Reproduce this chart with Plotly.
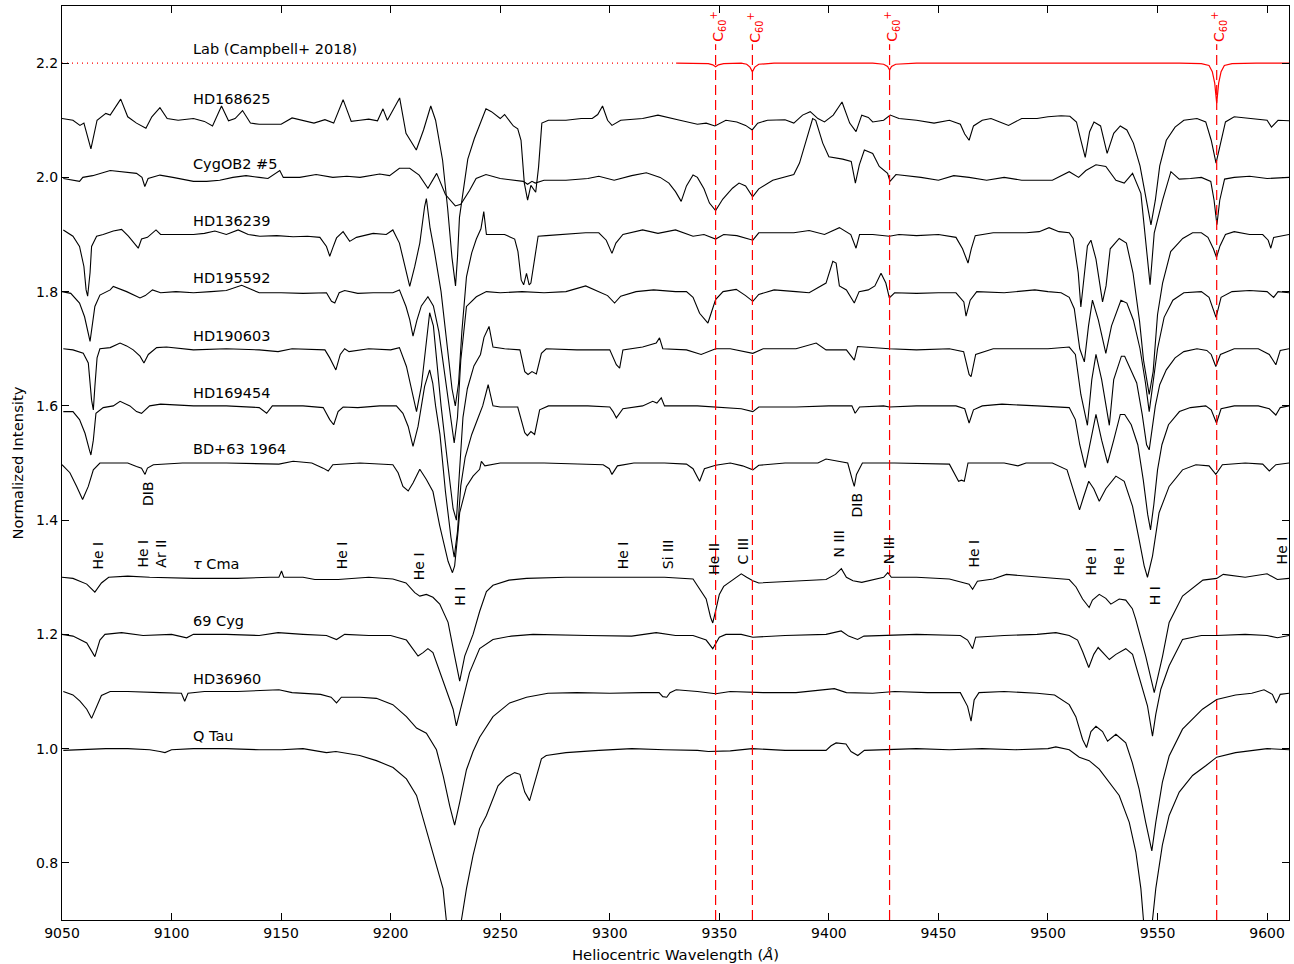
import plotly.graph_objects as go

# ---------------- data (wavelength in Angstrom, normalized flux) ----------------
lab_dotted = [(9050, 1.0), (9330, 1.0)]
lab_solid = [(9330.3, 1.0), (9340, 1.0), (9345, 0.999), (9347, 0.997), (9348.3, 0.9935), (9349.6, 0.997), (9352, 0.999),
             (9360, 1.0), (9362.5, 0.998), (9364, 0.993), (9365.1, 0.985), (9366.2, 0.993), (9368, 0.998), (9375, 1.0),
             (9420, 1.0), (9425, 0.998), (9426.8, 0.994), (9427.7, 0.988), (9428.6, 0.994), (9430.5, 0.998), (9440, 1.0),
             (9560, 1.0), (9570, 0.999), (9573.5, 0.996), (9575, 0.985), (9576.1, 0.965), (9577, 0.93), (9577.9, 0.965),
             (9579, 0.985), (9580.5, 0.996), (9584, 0.999), (9595, 1.0), (9610, 1.0)]
lab_offset = 1.2

hd168625 = [(9050, 1.003), (9055, 1.0), (9058.2, 0.991), (9060, 0.995), (9063.2, 0.95), (9066, 1.0), (9070, 1.012), (9072, 1.009),
            (9076.8, 1.037), (9080, 1.006), (9084, 0.995), (9088.3, 0.986), (9091, 1.006), (9094.7, 1.022), (9098, 1.003),
            (9103, 1.0), (9110, 1.003), (9115, 0.998), (9118.7, 0.99), (9122.8, 1.025), (9126, 0.999), (9129, 1.003),
            (9132.4, 1.017), (9136, 0.995), (9140, 0.993), (9150, 0.993), (9155, 1.004), (9160, 1.0), (9165, 0.995),
            (9170, 1.001), (9174, 0.995), (9178.3, 1.036), (9182, 0.998), (9186, 1.0), (9190, 1.002), (9194, 0.999),
            (9196.5, 1.02), (9198.5, 1.0), (9204.1, 1.039), (9207, 0.977), (9211.7, 0.948), (9215, 0.983), (9218.3, 1.025),
            (9220.5, 1.0), (9223.7, 0.93), (9226, 0.846), (9228, 0.759), (9229.6, 0.71), (9230.5, 0.76), (9231.4, 0.83),
            (9232.9, 0.872), (9235.2, 0.932), (9238.2, 0.968), (9240.5, 0.992), (9243.5, 1.02), (9246, 1.015), (9250, 1.003),
            (9252, 1.01), (9256, 0.99), (9258, 0.985), (9259.5, 0.965), (9261, 0.89), (9262.5, 0.86), (9264, 0.886),
            (9266.2, 0.874), (9267.5, 0.918), (9269, 0.995), (9272, 1.0), (9280, 1.0), (9287, 1.003), (9292, 1.003),
            (9294.5, 1.01), (9296.7, 1.025), (9299, 1.0), (9301, 0.991), (9305, 1.0), (9315, 1.003), (9322, 1.009),
            (9326, 1.005), (9332, 1.0), (9340, 0.993), (9344, 0.995), (9348, 0.99), (9353, 1.0), (9358, 0.997),
            (9362, 0.991), (9365, 0.983), (9367.5, 0.995), (9372, 1.0), (9380, 1.001), (9384, 0.995), (9388, 1.009),
            (9391.5, 1.015), (9395, 1.003), (9398, 0.997), (9402, 1.009), (9406, 1.032), (9409.5, 0.995), (9412.4, 0.98),
            (9415, 1.009), (9418, 1.005), (9420, 0.997), (9425, 1.0), (9428, 1.009), (9432, 1.003), (9440, 1.0),
            (9448, 0.995), (9455, 1.0), (9460, 0.993), (9462, 0.976), (9464, 0.965), (9466, 0.99), (9470, 1.0),
            (9474, 1.003), (9478, 0.997), (9482, 0.991), (9488, 1.003), (9495, 1.003), (9500, 1.006), (9506, 1.008),
            (9510, 1.007), (9513, 0.997), (9515, 0.965), (9517, 0.935), (9519, 0.98), (9521, 0.997), (9524, 0.99),
            (9527, 0.942), (9530, 0.977), (9533, 0.99), (9536, 0.983), (9539, 0.96), (9542, 0.92), (9545, 0.86),
            (9547, 0.817), (9549, 0.86), (9551, 0.92), (9554, 0.965), (9558, 0.988), (9562, 1.0), (9568, 1.003),
            (9572, 0.997), (9574.5, 0.965), (9576.7, 0.925), (9579, 0.965), (9581, 0.997), (9585, 1.006), (9592, 1.003),
            (9597, 1.0), (9600, 1.0), (9602, 0.988), (9605, 1.0), (9610, 0.999)]

cygob2_5 = [(9050.6, 0.998), (9058, 0.993), (9059.5, 1.0), (9064, 1.003), (9072, 1.012), (9079.5, 1.009), (9084, 1.007),
            (9086.5, 1.0), (9087.8, 0.984), (9089.3, 0.998), (9094.7, 1.004), (9100.6, 1.0), (9110, 0.993), (9116, 0.993),
            (9122, 0.995), (9128, 1.0), (9134, 1.003), (9140, 1.0), (9144, 0.998), (9149.4, 1.012), (9151, 1.0),
            (9158.5, 1.0), (9166, 1.005), (9173.6, 1.0), (9180, 1.002), (9186, 1.0), (9195, 1.006), (9199.5, 1.003),
            (9204, 1.016), (9208.7, 1.016), (9213, 1.004), (9217, 0.981), (9221, 1.007), (9225, 0.97), (9229.5, 0.95),
            (9232, 0.953), (9236, 0.977), (9239, 0.998), (9243.5, 1.005), (9250, 0.998), (9258, 0.995), (9260.5, 0.993),
            (9262.5, 0.988), (9264.5, 0.993), (9266, 0.99), (9270, 0.995), (9280, 0.995), (9290, 0.998), (9295, 1.002),
            (9302, 0.995), (9310, 1.003), (9316.7, 1.008), (9323, 1.0), (9327, 0.99), (9330, 0.975), (9332.6, 0.958),
            (9335, 0.985), (9338, 1.004), (9340, 1.0), (9343, 0.98), (9345.5, 0.955), (9348.3, 0.942), (9351.6, 0.962),
            (9356, 0.981), (9359, 0.99), (9362, 0.985), (9365.2, 0.966), (9368, 0.98), (9374.4, 0.995), (9380.5, 1.002),
            (9384, 1.005), (9386.6, 1.025), (9389.6, 1.065), (9392.6, 1.103), (9394, 1.1), (9397.2, 1.06), (9400, 1.036),
            (9406.3, 1.032), (9410.2, 1.028), (9412.1, 0.99), (9413.9, 1.022), (9416.2, 1.048), (9420, 1.042),
            (9423, 1.019), (9426.8, 1.007), (9427.9, 0.993), (9430.6, 1.005), (9435, 1.003), (9442, 1.0), (9450, 0.995),
            (9457, 1.003), (9464, 1.0), (9472, 0.995), (9480, 1.0), (9488, 0.995), (9495, 0.995), (9502, 0.995),
            (9509.7, 1.01), (9514, 1.0), (9517.3, 1.012), (9521.9, 1.022), (9526.4, 1.019), (9531, 0.995), (9534.8, 0.99),
            (9538.6, 1.007), (9542.4, 0.972), (9545.4, 0.855), (9546.6, 0.812), (9548.5, 0.903), (9552.3, 0.96),
            (9556.1, 1.01), (9559.9, 0.997), (9565, 0.998), (9570, 1.0), (9574.3, 0.993), (9575.8, 0.96), (9577.1, 0.917),
            (9578.4, 0.96), (9580.6, 0.997), (9585, 1.0), (9592, 1.002), (9600, 0.998), (9610, 1.0)]

hd136239 = [(9050.6, 1.008), (9055, 0.997), (9058, 0.979), (9060, 0.944), (9061, 0.903), (9061.7, 0.892), (9062.8, 0.933),
            (9063.5, 0.979), (9065.8, 0.997), (9068.8, 1.0), (9073.4, 1.006), (9077.2, 1.009), (9080.3, 0.997),
            (9083.3, 0.982), (9084.8, 0.976), (9086.3, 0.992), (9089, 0.995), (9092.9, 1.008), (9095, 1.0), (9102.3, 1.0),
            (9110, 1.0), (9115, 1.002), (9119.8, 1.006), (9125, 1.0), (9130.4, 1.008), (9135, 1.0), (9140.3, 0.997),
            (9148, 0.998), (9155.5, 0.996), (9162, 0.997), (9167.7, 0.995), (9170.7, 0.979), (9172.2, 0.962),
            (9173.7, 0.978), (9175.3, 0.994), (9178.3, 1.005), (9181.3, 0.988), (9184.4, 0.995), (9192, 1.002),
            (9198, 1.0), (9201, 1.008), (9204, 0.985), (9206.4, 0.944), (9208.7, 0.909), (9211, 0.944), (9213.3, 0.985),
            (9215.5, 1.049), (9216.3, 1.063), (9218, 1.011), (9220, 0.97), (9223, 0.9), (9226, 0.8), (9228, 0.73),
            (9229.5, 0.70), (9231, 0.74), (9232.5, 0.83), (9234.6, 0.926), (9237, 0.968), (9239.1, 0.992), (9241.2, 1.01),
            (9242.5, 1.04), (9243.7, 1.0), (9245, 1.0), (9252, 1.0), (9256.6, 0.992), (9258.1, 0.97), (9259.6, 0.92),
            (9260.7, 0.912), (9262, 0.932), (9263.2, 0.912), (9264, 0.915), (9265.3, 0.95), (9267.3, 0.997), (9271, 0.998),
            (9280, 1.0), (9289, 1.003), (9295, 1.003), (9298.4, 0.99), (9301, 0.967), (9302.8, 0.985), (9306, 1.0),
            (9315, 1.008), (9322, 1.002), (9330, 1.008), (9338, 0.997), (9343, 1.0), (9348.3, 0.992), (9352, 1.0),
            (9358, 0.998), (9365.3, 0.99), (9368, 1.003), (9376, 1.003), (9384, 1.003), (9391, 1.007), (9398, 1.0),
            (9404.8, 1.012), (9410, 1.0), (9412.4, 0.976), (9414, 1.0), (9420, 1.0), (9427.6, 0.997), (9432, 1.0),
            (9440, 0.998), (9450, 1.0), (9458, 0.995), (9461, 0.975), (9463.5, 0.95), (9465, 0.975), (9466.8, 0.998),
            (9475, 1.003), (9490, 1.003), (9496, 1.005), (9500.5, 1.012), (9505, 1.005), (9509.7, 1.003), (9511.5, 0.993),
            (9513.8, 0.933), (9515, 0.873), (9516.6, 0.933), (9518, 0.98), (9519.6, 0.99), (9521.9, 0.957),
            (9524.9, 0.882), (9526.5, 0.91), (9528.4, 0.975), (9532.5, 0.993), (9535.8, 0.985), (9538.8, 0.933),
            (9541.8, 0.848), (9543.6, 0.78), (9546.2, 0.72), (9548, 0.76), (9550, 0.86), (9552.3, 0.915), (9556, 0.97),
            (9561.5, 0.993), (9566, 1.003), (9570, 1.003), (9573, 0.995), (9575.5, 0.975), (9576.9, 0.96), (9578.5, 0.98),
            (9581, 1.0), (9585, 1.005), (9592, 1.0), (9598, 1.0), (9600.5, 0.99), (9601.7, 0.976), (9603, 0.995),
            (9610, 1.0)]

hd195592 = [(9050, 1.0), (9054, 0.997), (9058, 0.98), (9060.3, 0.956), (9062.8, 0.913), (9065, 0.974), (9067.3, 0.994),
            (9072, 1.003), (9073.4, 1.009), (9079.5, 1.0), (9085.6, 0.989), (9088, 0.993), (9091.3, 1.003), (9095, 0.998),
            (9102, 1.0), (9110, 0.998), (9118, 1.0), (9125, 1.002), (9132, 1.011), (9140, 0.998), (9150, 0.998),
            (9160, 0.997), (9170.7, 0.998), (9173, 0.983), (9174.5, 0.98), (9176.5, 0.998), (9179, 1.002), (9185, 0.997),
            (9192, 0.998), (9201, 0.998), (9204, 1.003), (9207, 0.974), (9208.7, 0.951), (9210.2, 0.922), (9212, 0.95),
            (9214, 0.975), (9217, 0.991), (9219.5, 0.975), (9222, 0.93), (9225, 0.85), (9227.5, 0.78), (9229, 0.735),
            (9230.5, 0.78), (9232, 0.88), (9234.6, 0.974), (9239.1, 0.991), (9243.7, 1.0), (9250, 0.998), (9260, 1.0),
            (9270, 0.998), (9280, 1.0), (9289, 1.01), (9295, 1.0), (9299, 0.993), (9302.2, 0.98), (9305, 0.992),
            (9312, 1.0), (9320, 1.003), (9330, 1.0), (9335, 1.0), (9338, 0.99), (9341, 0.962), (9344.8, 0.945),
            (9348.3, 0.986), (9351.7, 1.0), (9357.7, 1.004), (9362, 0.993), (9365.3, 0.983), (9368, 0.995), (9375, 1.003),
            (9385, 1.0), (9391, 0.998), (9398.7, 1.015), (9401.8, 1.053), (9403.3, 1.05), (9404.8, 1.01), (9408, 1.003),
            (9411.6, 0.98), (9413.8, 1.0), (9418, 1.003), (9421, 1.01), (9423.8, 1.032), (9426, 1.015), (9427.6, 0.989),
            (9430, 0.998), (9440, 0.997), (9450, 0.998), (9458, 0.998), (9461.6, 0.982), (9462.6, 0.957), (9464.5, 0.985),
            (9467.5, 1.0), (9480, 0.998), (9494, 1.003), (9500, 1.0), (9506, 0.998), (9509.7, 0.99), (9512, 0.97),
            (9514.5, 0.9), (9516.6, 0.877), (9518.5, 0.94), (9520.3, 0.985), (9523, 0.95), (9526.4, 0.892), (9529, 0.94),
            (9533.3, 0.985), (9536, 0.98), (9539, 0.95), (9542, 0.9), (9544.5, 0.84), (9546.2, 0.79), (9548, 0.84),
            (9550, 0.9), (9553, 0.955), (9557, 0.985), (9562, 0.998), (9570, 1.0), (9573.5, 0.99), (9576.7, 0.955),
            (9579, 0.99), (9584, 1.0), (9592, 1.002), (9600, 1.0), (9603, 0.99), (9605, 1.0), (9610, 0.998)]

hd190603 = [(9050.6, 1.0), (9055, 0.998), (9059.7, 0.992), (9062, 0.975), (9063.5, 0.91), (9064.3, 0.893), (9065, 0.934),
            (9066, 0.984), (9067.3, 1.0), (9072, 1.002), (9076.5, 1.01), (9079.5, 1.005), (9082.5, 0.998), (9085.6, 0.987),
            (9087.4, 0.975), (9089.4, 0.99), (9093.2, 1.002), (9097.7, 1.003), (9110, 0.998), (9125, 1.0), (9140, 0.998),
            (9148.6, 0.995), (9155, 1.0), (9170, 0.998), (9172.2, 0.984), (9175, 0.963), (9177, 0.99), (9179, 1.0),
            (9181, 0.995), (9190, 1.0), (9200, 0.998), (9204, 1.002), (9207.2, 0.969), (9209.5, 0.928), (9211.8, 0.89),
            (9214, 0.934), (9216.3, 1.01), (9217.8, 1.063), (9219.5, 1.04), (9221, 0.98), (9223, 0.9), (9226, 0.8),
            (9228.5, 0.72), (9230, 0.70), (9231.5, 0.8), (9233, 0.88), (9235, 0.93), (9238, 0.97), (9241, 0.99),
            (9242.6, 1.02), (9244.9, 1.039), (9246.7, 1.003), (9252, 1.0), (9259, 0.998), (9261.2, 0.96), (9262.7, 0.955),
            (9264.5, 0.96), (9266.5, 0.956), (9268.8, 0.992), (9271, 1.0), (9285, 0.998), (9300, 0.998), (9303, 0.972),
            (9304.5, 0.966), (9306, 0.998), (9315, 1.003), (9321.2, 1.01), (9322.7, 1.019), (9324.2, 1.0), (9335, 0.998),
            (9341.7, 0.99), (9348.3, 1.0), (9355, 1.0), (9365.3, 0.992), (9370, 1.0), (9385, 1.0), (9394.2, 1.01),
            (9398.7, 0.998), (9408, 0.998), (9411.6, 0.98), (9413.1, 1.004), (9420, 1.002), (9427.6, 1.0), (9440, 0.998),
            (9455, 1.0), (9461.5, 0.995), (9464, 0.955), (9464.9, 0.951), (9467, 0.99), (9475, 1.0), (9490, 1.0),
            (9500, 1.0), (9509.7, 1.003), (9512.5, 0.99), (9515, 0.92), (9518, 0.866), (9520, 0.946), (9521.9, 0.99),
            (9524.5, 0.946), (9528, 0.866), (9530, 0.946), (9533.5, 0.987), (9535, 0.987), (9538, 0.963), (9540.5, 0.94),
            (9543, 0.885), (9545, 0.832), (9546.2, 0.823), (9547.5, 0.86), (9549, 0.9), (9551, 0.937), (9554, 0.963),
            (9558, 0.984), (9562, 0.995), (9568, 1.0), (9572.5, 0.997), (9574.5, 0.99), (9576.6, 0.969), (9578.7, 0.99),
            (9585, 1.0), (9596, 1.0), (9601, 0.99), (9604, 0.972), (9606, 0.997), (9610, 1.0)]

hd169454 = [(9050.6, 0.99), (9055, 0.99), (9058, 0.976), (9060.5, 0.952), (9062.5, 0.923), (9063.2, 0.914), (9064.3, 0.94),
            (9065.5, 0.987), (9068.8, 0.997), (9073.4, 1.0), (9076.5, 1.008), (9081, 1.0), (9084, 0.99), (9086.3, 0.987),
            (9090, 1.0), (9095, 1.003), (9110, 1.0), (9125, 1.0), (9140, 0.997), (9143.4, 0.987), (9146, 1.0),
            (9160, 1.0), (9169.2, 0.997), (9172.2, 0.976), (9174, 0.967), (9176, 0.99), (9178.3, 0.998), (9185, 0.997),
            (9195, 1.0), (9202.6, 1.0), (9205.6, 0.987), (9208, 0.964), (9210.2, 0.929), (9212.5, 0.964), (9215.5, 1.034),
            (9217.8, 1.063), (9219.2, 1.04), (9220.5, 1.0), (9222.5, 0.95), (9225, 0.85), (9227.5, 0.77), (9229, 0.735),
            (9230.5, 0.78), (9232, 0.86), (9234, 0.91), (9237, 0.95), (9240, 0.98), (9242, 1.0), (9244.5, 1.037),
            (9246.7, 1.0), (9250, 0.998), (9258, 0.998), (9261.2, 0.953), (9262.4, 0.948), (9264, 0.955), (9265.7, 0.95),
            (9268, 0.993), (9272, 1.0), (9290, 1.0), (9300, 0.998), (9301.5, 0.99), (9303, 0.979), (9306, 0.995),
            (9315, 1.0), (9319.6, 1.008), (9321.5, 1.005), (9323.5, 1.014), (9325, 1.0), (9340, 1.0), (9348.3, 0.998),
            (9360, 0.995), (9365.3, 0.99), (9368, 0.998), (9385, 0.998), (9400, 1.0), (9410.5, 1.0), (9412, 0.987),
            (9414, 0.998), (9425, 1.0), (9427.6, 0.998), (9440, 1.0), (9458, 1.0), (9462, 0.995), (9464, 0.97),
            (9466, 0.993), (9470, 1.0), (9479, 1.003), (9495, 1.0), (9509.7, 0.997), (9512.5, 0.976), (9514.5, 0.932),
            (9517, 0.892), (9519.5, 0.94), (9521.9, 0.985), (9524.5, 0.94), (9527.2, 0.9), (9530, 0.94), (9533, 0.985),
            (9535, 0.985), (9538, 0.967), (9541, 0.932), (9543.5, 0.87), (9545.5, 0.81), (9546.8, 0.783), (9548.3, 0.827),
            (9550, 0.888), (9552, 0.932), (9555, 0.967), (9560, 0.99), (9565, 0.997), (9572, 1.0), (9574.5, 0.993),
            (9576.9, 0.97), (9579, 0.995), (9585, 1.0), (9596, 1.0), (9601, 0.995), (9604, 0.984), (9606, 0.997),
            (9610, 1.0)]

bd63_1964 = [(9050, 0.997), (9053.6, 0.983), (9056.7, 0.959), (9059.4, 0.936), (9062, 0.959), (9064.3, 0.988), (9067.3, 1.0),
             (9072, 1.0), (9080, 1.0), (9084, 0.994), (9086.3, 0.991), (9087.9, 0.98), (9089, 0.991), (9091.7, 0.997),
             (9105, 1.0), (9125, 1.0), (9140, 0.998), (9149, 0.998), (9155.5, 1.003), (9164, 1.0), (9169.2, 0.991),
             (9171.5, 0.986), (9173.6, 0.997), (9186, 1.0), (9201, 0.997), (9203.4, 0.983), (9205.6, 0.959), (9208, 0.951),
             (9210.2, 0.965), (9213.3, 0.989), (9216.3, 0.971), (9219.3, 0.95), (9222.4, 0.89), (9224.7, 0.85),
             (9226.2, 0.828), (9228.2, 0.808), (9229.2, 0.82), (9230.7, 0.878), (9231.5, 0.913), (9234.6, 0.959),
             (9237.6, 0.977), (9240.6, 0.989), (9241.4, 1.003), (9243, 0.995), (9250, 1.0), (9270, 1.0), (9290, 0.998),
             (9297, 0.997), (9299.8, 0.99), (9301, 0.98), (9303.5, 0.995), (9311, 1.0), (9325, 1.0), (9335, 0.998),
             (9338, 0.99), (9341, 0.968), (9343.2, 0.99), (9348.3, 0.996), (9355, 1.0), (9360.6, 0.995), (9365.3, 0.988),
             (9368, 0.996), (9380, 1.0), (9395, 1.0), (9398.7, 1.007), (9404.8, 1.003), (9408.6, 1.0), (9410.9, 0.968),
             (9411.6, 0.959), (9412.6, 0.98), (9415.3, 1.0), (9430, 1.0), (9447, 0.998), (9455, 0.998), (9459.2, 0.968),
             (9460.5, 0.97), (9461.8, 0.968), (9463.5, 1.0), (9480, 1.0), (9486.3, 0.995), (9490, 1.0), (9502, 1.0),
             (9508.7, 0.988), (9511.7, 0.953), (9514.4, 0.918), (9516.2, 0.94), (9518.6, 0.968), (9520.9, 0.955),
             (9523.4, 0.933), (9526.4, 0.955), (9531, 0.977), (9534.8, 0.968), (9538.6, 0.924), (9541.6, 0.866),
             (9543.9, 0.82), (9545.4, 0.80), (9547.7, 0.837), (9550.7, 0.913), (9555.3, 0.959), (9561.4, 0.988),
             (9567.5, 0.997), (9573.5, 0.995), (9576.6, 0.98), (9579.6, 0.997), (9590, 1.0), (9598, 0.998), (9601, 0.986),
             (9604, 0.997), (9610, 1.0)]

tau_cma = [(9050, 1.0), (9055, 0.998), (9061.3, 0.988), (9065, 0.974), (9068, 0.99), (9071.3, 1.0), (9080, 1.002), (9090, 1.0),
           (9110, 0.998), (9130, 0.998), (9145, 1.0), (9149, 1.0), (9150.2, 1.011), (9151.2, 1.0), (9160, 1.0),
           (9165.4, 0.996), (9176, 0.996), (9190, 1.0), (9201, 0.997), (9207, 0.99), (9211, 0.973), (9213.3, 0.967),
           (9216.3, 0.97), (9219.3, 0.965), (9222.4, 0.953), (9226.2, 0.921), (9229.2, 0.862), (9231.5, 0.818),
           (9233.8, 0.862), (9237.6, 0.9), (9240.6, 0.94), (9243.7, 0.975), (9246.7, 0.986), (9254, 0.995), (9262, 0.998),
           (9280, 1.0), (9300, 1.0), (9325, 1.0), (9338, 0.997), (9341, 0.979), (9344, 0.962), (9346, 0.93), (9347, 0.92),
           (9348.5, 0.944), (9350, 0.97), (9352, 0.984), (9356, 0.995), (9360, 1.006), (9362.5, 1.0), (9365.3, 0.994),
           (9368, 0.99), (9378, 0.992), (9385, 0.994), (9398.7, 0.996), (9403, 1.005), (9405.7, 1.015), (9408, 1.0),
           (9411, 0.994), (9415, 0.991), (9421, 0.997), (9425, 1.0), (9426.9, 1.008), (9428.5, 1.0), (9440, 1.0),
           (9455, 0.997), (9464, 0.988), (9465.6, 0.979), (9467.8, 0.993), (9475, 0.997), (9481, 1.005), (9495, 1.0),
           (9509.7, 0.996), (9512.8, 0.983), (9515.8, 0.962), (9518.8, 0.947), (9520.3, 0.96), (9523.4, 0.97),
           (9526.4, 0.963), (9528.7, 0.953), (9532.5, 0.962), (9535.5, 0.96), (9538.5, 0.945), (9540, 0.927),
           (9544.6, 0.862), (9548.5, 0.798), (9552.3, 0.862), (9555.3, 0.921), (9561.4, 0.967), (9570.7, 0.995),
           (9577, 0.998), (9580, 1.005), (9590, 1.0), (9600, 1.006), (9604.7, 0.996), (9610, 0.998)]

cyg69 = [(9050, 1.0), (9055, 0.997), (9061.3, 0.985), (9064.3, 0.965), (9065, 0.961), (9067.3, 0.99), (9069.6, 1.0),
         (9077.2, 1.003), (9087, 0.998), (9100, 1.0), (9106.9, 0.994), (9110, 1.0), (9125, 1.0), (9140, 0.998),
         (9148.6, 1.003), (9160, 1.0), (9170.7, 0.998), (9175.3, 0.991), (9179, 1.0), (9190, 0.998), (9200, 0.998),
         (9207.2, 0.99), (9210.2, 0.974), (9212.5, 0.962), (9214.8, 0.968), (9217, 0.975), (9219.3, 0.968), (9222, 0.94),
         (9225.4, 0.904), (9228.5, 0.869), (9230, 0.84), (9231.2, 0.858), (9232.3, 0.875), (9236, 0.933),
         (9240.6, 0.975), (9246.7, 0.991), (9255, 0.997), (9265, 1.0), (9290, 0.998), (9300, 0.998), (9310, 0.997),
         (9321.2, 1.003), (9330, 0.998), (9338, 0.998), (9344, 0.99), (9347, 0.975), (9350, 0.995), (9353, 1.0),
         (9360, 1.0), (9365.3, 0.995), (9380, 0.998), (9398.7, 1.0), (9405.6, 1.006), (9409, 0.997), (9413.1, 0.991),
         (9416, 0.997), (9425, 0.998), (9427.6, 0.998), (9440, 1.0), (9460, 0.998), (9463.3, 0.99), (9465.6, 0.975),
         (9467, 0.995), (9480, 0.998), (9495, 1.0), (9503.6, 1.003), (9509.7, 0.998), (9513.5, 0.99), (9515.8, 0.97),
         (9518.6, 0.942), (9520.9, 0.965), (9522.9, 0.977), (9525.6, 0.965), (9528, 0.956), (9531, 0.965),
         (9535.5, 0.975), (9538.6, 0.965), (9541.6, 0.927), (9545.4, 0.875), (9547.7, 0.822), (9549.2, 0.86),
         (9551.5, 0.904), (9555.3, 0.945), (9561.4, 0.991), (9570, 0.998), (9577, 0.998), (9590, 1.0), (9600, 0.998),
         (9604.7, 0.994), (9610, 0.998)]

hd36960 = [(9050.6, 1.0), (9055, 0.994), (9058.2, 0.983), (9061.3, 0.969), (9063.5, 0.953), (9065.8, 0.975), (9068, 0.993),
           (9072, 1.0), (9080, 1.0), (9094.7, 0.998), (9104.5, 0.997), (9106, 0.983), (9107.5, 0.997), (9115, 1.0),
           (9130, 1.0), (9149, 1.003), (9155, 0.998), (9168, 0.995), (9172.8, 0.99), (9175.3, 0.98), (9177.5, 0.99),
           (9186, 0.99), (9193.5, 0.988), (9201, 0.977), (9207.2, 0.956), (9211.8, 0.936), (9216.3, 0.927),
           (9220.9, 0.898), (9224, 0.852), (9227, 0.799), (9229.2, 0.766), (9231.5, 0.806), (9234.6, 0.863),
           (9237.6, 0.895), (9240.6, 0.92), (9246.7, 0.956), (9254.3, 0.98), (9262, 0.99), (9271.8, 0.997), (9285, 0.998),
           (9300, 0.997), (9315, 0.998), (9322.5, 0.998), (9324.2, 0.991), (9326, 0.99), (9327.5, 0.998), (9330.3, 1.003),
           (9340, 1.0), (9348.3, 0.996), (9355, 1.0), (9370, 0.998), (9385, 0.998), (9402.5, 1.005), (9408, 0.998),
           (9420, 0.997), (9430, 1.0), (9445, 0.998), (9460, 0.998), (9463.3, 0.974), (9464.9, 0.948), (9466.3, 0.985),
           (9468.5, 0.998), (9480, 1.0), (9495, 0.997), (9503, 0.994), (9509.7, 0.977), (9512.7, 0.956), (9515.8, 0.916),
           (9517.6, 0.902), (9519.6, 0.93), (9521.9, 0.939), (9524.9, 0.93), (9527.2, 0.913), (9531, 0.925),
           (9535.5, 0.91), (9538.5, 0.875), (9541.6, 0.829), (9544.6, 0.771), (9547.4, 0.721), (9549.2, 0.771),
           (9552.2, 0.841), (9555.3, 0.887), (9561.4, 0.934), (9570.5, 0.969), (9577, 0.986), (9585.6, 0.994),
           (9593, 0.997), (9598.6, 1.003), (9602.4, 0.995), (9604.2, 0.98), (9606, 0.995), (9610, 0.997)]

q_tau = [(9050.6, 0.997), (9070, 1.0), (9080, 1.0), (9090, 0.998), (9094.7, 0.995), (9097, 0.993), (9100, 0.998), (9110, 1.0),
         (9125, 1.0), (9140, 0.998), (9150, 0.998), (9160, 1.0), (9170.7, 0.993), (9175, 0.995), (9185.9, 0.988),
         (9193.5, 0.979), (9201.1, 0.967), (9207.2, 0.947), (9211.8, 0.918), (9214.8, 0.877), (9217.8, 0.836),
         (9220.9, 0.795), (9223.9, 0.755), (9225.4, 0.70), (9228.9, 0.61), (9232.3, 0.70), (9234.6, 0.755),
         (9237.6, 0.813), (9240.6, 0.86), (9243.7, 0.883), (9246.7, 0.912), (9249, 0.935), (9252.8, 0.95),
         (9256.6, 0.958), (9259, 0.955), (9261.2, 0.924), (9263.4, 0.909), (9265.7, 0.941), (9268.8, 0.982),
         (9271, 0.988), (9280, 0.993), (9295, 0.997), (9310, 1.0), (9325, 0.998), (9340, 0.997), (9345, 0.995),
         (9355, 0.996), (9365, 1.0), (9380, 0.997), (9398.7, 0.997), (9401, 1.005), (9403.3, 1.01), (9407.8, 1.008),
         (9410.1, 0.995), (9413.2, 0.988), (9416.2, 0.997), (9425, 0.998), (9440, 1.0), (9455, 0.998), (9470, 1.0),
         (9485, 0.998), (9500, 1.0), (9503.6, 1.003), (9509.7, 0.998), (9514.3, 0.985), (9518.8, 0.979),
         (9523.4, 0.964), (9528, 0.941), (9532.5, 0.918), (9537.1, 0.871), (9540.1, 0.819), (9542.4, 0.755),
         (9543.5, 0.70), (9545.5, 0.61), (9547.7, 0.70), (9549.2, 0.755), (9552.2, 0.831), (9555.3, 0.883),
         (9559.9, 0.924), (9566, 0.953), (9572, 0.97), (9577, 0.985), (9585.6, 0.993), (9595, 0.997), (9600, 1.0),
         (9610, 0.998)]

star_names = ["HD168625", "CygOB2 #5", "HD136239", "HD195592", "HD190603", "HD169454", "BD+63 1964",
              "<i>τ</i> Cma", "69 Cyg", "HD36960", "Q Tau"]
star_spectra = [hd168625, cygob2_5, hd136239, hd195592, hd190603, hd169454, bd63_1964, tau_cma, cyg69, hd36960, q_tau]
star_offsets = [1.1, 1.0, 0.9, 0.8, 0.7, 0.6, 0.5, 0.3, 0.2, 0.1, 0.0]
star_label_y = [2.137, 2.023, 1.923, 1.823, 1.723, 1.623, 1.524, 1.323, 1.223, 1.122, 1.022]
lab_name = "Lab (Campbell+ 2018)"
lab_label_y = 2.224
label_x = 9108.8

c60_bands = [9348.3, 9365.1, 9427.7, 9577.0]

line_ids = ["He I", "He I<br>Ar II", "DIB", "He I", "He I", "H I", "He I", "Si III", "He II", "C III",
            "N III", "DIB", "N III", "He I", "He I", "He I", "H I", "He I"]
line_wl = [9066.4, 9091.0, 9089.2, 9177.7, 9213.3, 9231.5, 9305.9, 9326.4, 9347.8, 9360.6,
           9404.8, 9413.0, 9427.6, 9466.4, 9519.7, 9532.5, 9548.9, 9606.8]
line_y = [1.310, 1.313, 1.422, 1.310, 1.291, 1.247, 1.310, 1.310, 1.300, 1.319,
          1.331, 1.401, 1.319, 1.314, 1.300, 1.300, 1.247, 1.319]

x_ticks = [9050, 9100, 9150, 9200, 9250, 9300, 9350, 9400, 9450, 9500, 9550, 9600]
y_ticks = [0.8, 1.0, 1.2, 1.4, 1.6, 1.8, 2.0, 2.2]

# ---------------- figure ----------------
FONT = "DejaVu Sans"
fig = go.Figure()

for spec, off in zip(star_spectra, star_offsets):
    fig.add_trace(go.Scatter(x=[p[0] for p in spec], y=[p[1] + off for p in spec], mode="lines",
                             line=dict(color="black", width=1.1), hoverinfo="skip", showlegend=False))

fig.add_trace(go.Scatter(x=[p[0] for p in lab_dotted], y=[p[1] + lab_offset for p in lab_dotted], mode="lines",
                         line=dict(color="red", width=1.2, dash="1px,4px"), hoverinfo="skip", showlegend=False))
fig.add_trace(go.Scatter(x=[p[0] for p in lab_solid], y=[p[1] + lab_offset for p in lab_solid], mode="lines",
                         line=dict(color="red", width=1.2), hoverinfo="skip", showlegend=False))

for wl in c60_bands:
    fig.add_shape(type="line", xref="x", yref="y", x0=wl, x1=wl, y0=0.7, y1=2.233,
                  line=dict(color="red", width=1.2, dash="10px,5px"))
    fig.add_annotation(x=wl, y=2.233, xref="x", yref="y", text="C<sub>60</sub><sup>+</sup>", textangle=-90,
                       showarrow=False, xanchor="center", yanchor="bottom", xshift=3,
                       font=dict(family=FONT, size=14, color="red"))

for name, ly in zip(star_names, star_label_y):
    fig.add_annotation(x=label_x, y=ly, text=name, showarrow=False, xanchor="left", yanchor="middle",
                       font=dict(family=FONT, size=14.5, color="black"))
fig.add_annotation(x=label_x, y=lab_label_y, text=lab_name, showarrow=False, xanchor="left", yanchor="middle",
                   font=dict(family=FONT, size=14.5, color="black"))

for t, wl, ly in zip(line_ids, line_wl, line_y):
    fig.add_annotation(x=wl, y=ly, text=t, textangle=-90, showarrow=False, xanchor="center", yanchor="bottom",
                       font=dict(family=FONT, size=14, color="black"))

axis_common = dict(showline=True, linecolor="black", linewidth=1, mirror="ticks", ticks="inside", ticklen=7,
                   tickwidth=1, tickcolor="black", showgrid=False, zeroline=False,
                   tickfont=dict(family=FONT, size=14, color="black"))

fig.update_layout(
    width=1294, height=964, autosize=False,
    margin=dict(l=62, r=4, t=6, b=42),
    paper_bgcolor="white", plot_bgcolor="white",
    showlegend=False,
    xaxis=dict(range=[9050, 9610], tickvals=x_ticks, ticktext=[str(v) for v in x_ticks],
               title=dict(text="Heliocentric Wavelength (<i>Å</i>)", font=dict(family=FONT, size=14.8, color="black"),
                          standoff=9), **axis_common),
    yaxis=dict(range=[0.7, 2.3], tickvals=y_ticks, ticktext=["%.1f" % v for v in y_ticks],
               title=dict(text="Normalized Intensity", font=dict(family=FONT, size=14.8, color="black"), standoff=8),
               **axis_common),
)

fig.write_html("out.html")
